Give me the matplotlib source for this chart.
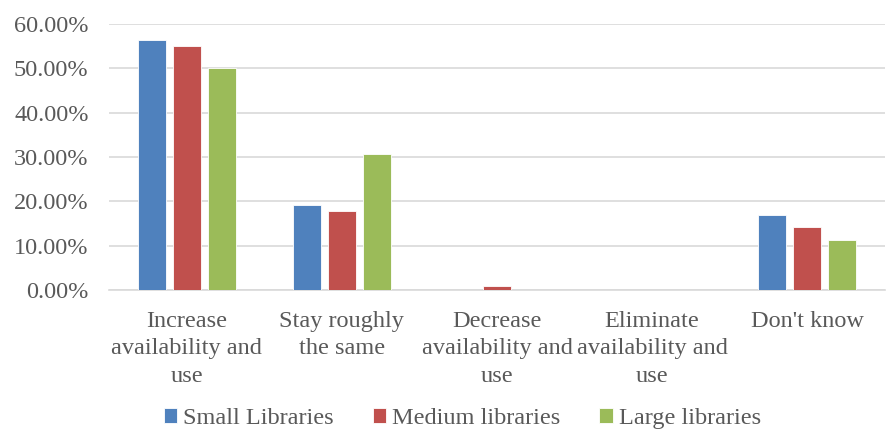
import numpy as np
import matplotlib.pyplot as plt
from matplotlib.ticker import PercentFormatter

categories = ["Increase\navailability and\nuse", "Stay roughly\nthe same",
              "Decrease\navailability and\nuse", "Eliminate\navailability and\nuse",
              "Don't know"]
small = [56.4, 19.2, 0.0, 0.0, 16.9]
medium = [55.1, 17.9, 0.9, 0.0, 14.1]
large = [50.0, 30.6, 0.0, 0.0, 11.2]
series_names = ["Small Libraries", "Medium libraries", "Large libraries"]
colors = ["#4F81BD", "#C0504D", "#9BBB59"]

plt.rcParams["font.family"] = ["Liberation Serif", "DejaVu Serif"]
txt = "#595959"
fs = 17.5

fig = plt.figure(figsize=(8.89, 4.36), dpi=100)
ax = fig.add_axes([0.123, 0.335, 0.872, 0.61])

x = np.arange(len(categories))
w = 0.18
step = 0.225
for i, (vals, name, c) in enumerate(zip([small, medium, large], series_names, colors)):
    ax.bar(x + (i - 1) * step, vals, w, color=c, label=name,
           edgecolor="white", linewidth=0.6, zorder=3)

ax.set_xlim(-0.5, len(categories) - 0.5)
ax.set_ylim(0, 60)
ax.set_yticks(np.arange(0, 61, 10))
ax.yaxis.set_major_formatter(PercentFormatter(decimals=2))
ax.grid(axis="y", color="#D9D9D9", linewidth=1.2, zorder=0)
ax.set_xticks(x)
ax.set_xticklabels(categories, fontsize=fs, color=txt, linespacing=1.42)
ax.tick_params(axis="y", labelsize=fs, labelcolor=txt, length=0, pad=15)
ax.tick_params(axis="x", length=0, pad=15)
for s in ["top", "right", "left"]:
    ax.spines[s].set_visible(False)
ax.spines["bottom"].set_color("#D9D9D9")
ax.spines["bottom"].set_linewidth(1.2)

leg = fig.legend(loc="lower center", ncol=3, frameon=False, fontsize=fs,
                 bbox_to_anchor=(0.52, -0.035), handlelength=0.55, handleheight=0.55,
                 handletextpad=0.25, columnspacing=1.6)
for t in leg.get_texts():
    t.set_color(txt)

fig.savefig("out.png", dpi=100)
